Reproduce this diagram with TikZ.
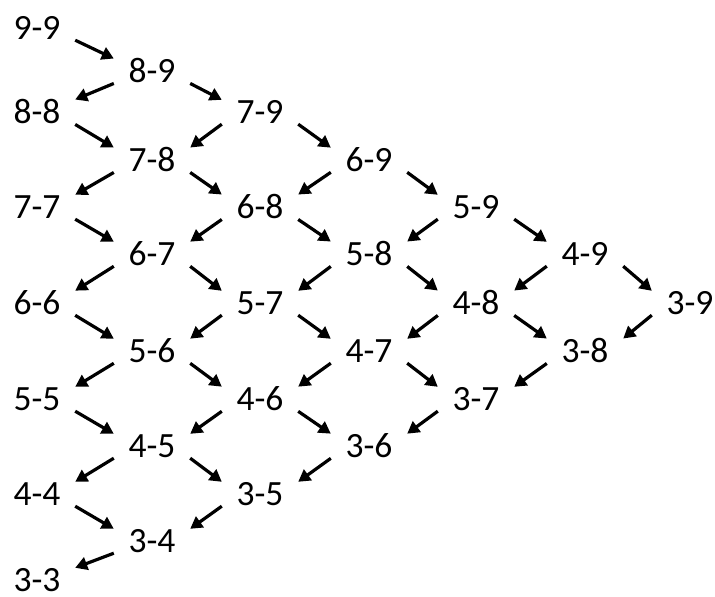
\documentclass[tikz,border=0pt]{standalone}
\usepackage{fontspec}
\setmainfont{Carlito}
\usetikzlibrary{arrows.meta}
\begin{document}
\begin{tikzpicture}[x=1pt,y=-1pt,
  lbl/.style={inner sep=0pt,minimum width=76pt,minimum height=24pt,
    font=\fontsize{35.5}{40}\selectfont},
  arr/.style={line width=3.2pt,-{Triangle[length=12pt,width=13pt]}}]
\useasboundingbox (0,0) rectangle (715,597);
% column x: 37,152,260,369,476,585,690 ; row y: 28,71,112,160,207,254,303,351,399,446,494,541,588
\node[lbl] (n99) at (37,28) {9-9};
\node[lbl] (n89) at (152,71) {8-9};
\node[lbl] (n88) at (37,112) {8-8};
\node[lbl] (n79) at (260,112) {7-9};
\node[lbl] (n78) at (152,160) {7-8};
\node[lbl] (n77) at (37,207) {7-7};
\node[lbl] (n69) at (369,160) {6-9};
\node[lbl] (n68) at (260,207) {6-8};
\node[lbl] (n67) at (152,254) {6-7};
\node[lbl] (n66) at (37,303) {6-6};
\node[lbl] (n59) at (476,207) {5-9};
\node[lbl] (n58) at (369,254) {5-8};
\node[lbl] (n57) at (260,303) {5-7};
\node[lbl] (n56) at (152,351) {5-6};
\node[lbl] (n55) at (37,399) {5-5};
\node[lbl] (n49) at (585,254) {4-9};
\node[lbl] (n48) at (476,303) {4-8};
\node[lbl] (n47) at (369,351) {4-7};
\node[lbl] (n46) at (260,399) {4-6};
\node[lbl] (n45) at (152,446) {4-5};
\node[lbl] (n44) at (37,494) {4-4};
\node[lbl] (n39) at (690,303) {3-9};
\node[lbl] (n38) at (585,351) {3-8};
\node[lbl] (n37) at (476,399) {3-7};
\node[lbl] (n36) at (369,446) {3-6};
\node[lbl] (n35) at (260,494) {3-5};
\node[lbl] (n34) at (152,541) {3-4};
\node[lbl] (n33) at (37,580) {3-3};
% down-right arrows: a-b -> (a-1)-b
\foreach \a in {4,...,9}{
  \pgfmathtruncatemacro\p{\a-1}
  \foreach \b in {\a,...,9}{
    \draw[arr] (n\a\b.south east) -- (n\p\b.north west);
  }
}
% down-left arrows: a-b -> a-(b-1)
\foreach \a in {3,...,8}{
  \pgfmathtruncatemacro\s{\a+1}
  \foreach \b in {\s,...,9}{
    \pgfmathtruncatemacro\q{\b-1}
    \draw[arr] (n\a\b.south west) -- (n\a\q.north east);
  }
}
\end{tikzpicture}
\end{document}
